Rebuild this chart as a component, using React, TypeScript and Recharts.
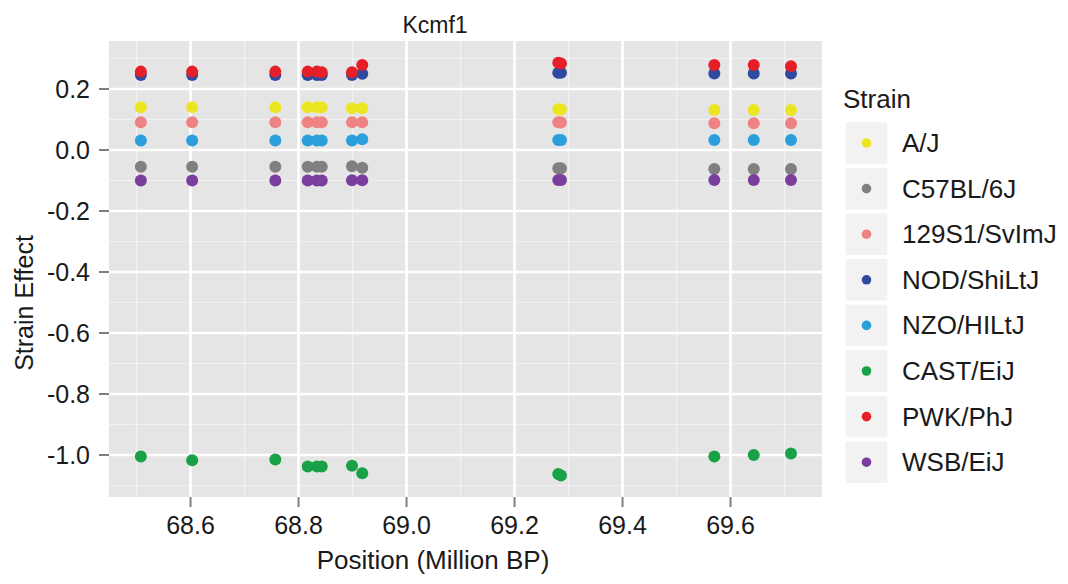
import { ScatterChart, Scatter, XAxis, YAxis, CartesianGrid } from 'recharts';

const positions = [68.508, 68.603, 68.757, 68.817, 68.834, 68.843, 68.899, 68.918, 69.281, 69.286, 69.57, 69.643, 69.712];

const strains = ['A/J', 'C57BL/6J', '129S1/SvImJ', 'NOD/ShiLtJ', 'NZO/HILtJ', 'CAST/EiJ', 'PWK/PhJ', 'WSB/EiJ'];
const strainColors = ['#ECE622', '#808080', '#EF8282', '#2F4B9F', '#2A9FDC', '#18A147', '#E41F27', '#7A3F9E'];

const ajEffect = [0.14, 0.14, 0.14, 0.14, 0.14, 0.14, 0.137, 0.137, 0.134, 0.133, 0.131, 0.131, 0.131];
const c57Effect = [-0.055, -0.055, -0.055, -0.055, -0.055, -0.055, -0.053, -0.058, -0.06, -0.06, -0.062, -0.062, -0.062];
const s129Effect = [0.091, 0.091, 0.091, 0.091, 0.091, 0.091, 0.091, 0.091, 0.091, 0.09, 0.088, 0.088, 0.088];
const nodEffect = [0.246, 0.246, 0.246, 0.246, 0.246, 0.246, 0.246, 0.25, 0.253, 0.253, 0.251, 0.251, 0.251];
const nzoEffect = [0.031, 0.031, 0.031, 0.031, 0.031, 0.031, 0.031, 0.035, 0.033, 0.033, 0.033, 0.033, 0.033];
const castEffect = [-1.005, -1.017, -1.015, -1.038, -1.038, -1.038, -1.035, -1.06, -1.062, -1.067, -1.005, -1.0, -0.995];
const pwkEffect = [0.257, 0.257, 0.257, 0.257, 0.257, 0.255, 0.255, 0.279, 0.286, 0.284, 0.279, 0.279, 0.275];
const wsbEffect = [-0.1, -0.1, -0.1, -0.1, -0.1, -0.1, -0.099, -0.099, -0.098, -0.098, -0.098, -0.098, -0.098];

const effects = [ajEffect, c57Effect, s129Effect, nodEffect, nzoEffect, castEffect, pwkEffect, wsbEffect];

const xTicks = [68.6, 68.8, 69.0, 69.2, 69.4, 69.6];
const xMinor = [68.5, 68.7, 68.9, 69.1, 69.3, 69.5, 69.7];
const yTicks = [0.2, 0.0, -0.2, -0.4, -0.6, -0.8, -1.0];
const yMinor = [0.3, 0.1, -0.1, -0.3, -0.5, -0.7, -0.9, -1.1];

const FONT = '"Liberation Sans", Arial, Helvetica, sans-serif';

const series = strains.map((name, i) => ({
  name,
  color: strainColors[i],
  data: positions.map((x, j) => ({ x, y: effects[i][j] })),
}));

const dot = (color: string) => (props: any) => <circle cx={props.cx} cy={props.cy} r={6} fill={color} />;

export default function App() {
  return (
    <div style={{ position: 'absolute', left: 0, top: 0, width: 1068, height: 584, background: '#fff', fontFamily: FONT }}>
      <ScatterChart width={1068} height={584} margin={{ top: 41, right: 246, bottom: 0, left: 0 }}>
        <CartesianGrid fill="#E5E5E5" stroke="#F2F2F2" strokeWidth={1.2} horizontalValues={yMinor} verticalValues={xMinor} />
        <CartesianGrid fill="none" stroke="#FFFFFF" strokeWidth={2.6} horizontalValues={yTicks} verticalValues={xTicks} />
        <XAxis
          type="number"
          dataKey="x"
          domain={[68.449, 69.7694]}
          ticks={xTicks}
          allowDataOverflow
          height={87}
          tickFormatter={(v: number) => v.toFixed(1)}
          axisLine={false}
          tickSize={10}
          tickMargin={9}
          tickLine={{ stroke: '#7F7F7F', strokeWidth: 2 }}
          tick={{ fill: '#1a1a1a', fontSize: 25, fontFamily: FONT }}
        />
        <YAxis
          type="number"
          dataKey="y"
          domain={[-1.1377, 0.3574]}
          ticks={yTicks}
          allowDataOverflow
          width={109}
          tickFormatter={(v: number) => v.toFixed(1)}
          axisLine={false}
          tickSize={10}
          tickMargin={9}
          tickLine={{ stroke: '#7F7F7F', strokeWidth: 2 }}
          tick={{ fill: '#1a1a1a', fontSize: 25, fontFamily: FONT }}
        />
        {series.map((s) => (
          <Scatter key={s.name} name={s.name} data={s.data} fill={s.color} shape={dot(s.color)} isAnimationActive={false} />
        ))}
      </ScatterChart>
      <svg width={1068} height={584} style={{ position: 'absolute', left: 0, top: 0, pointerEvents: 'none' }} fontFamily={FONT}>
        <text x={435} y={33} textAnchor="middle" fontSize={23} fill="#1a1a1a">Kcmf1</text>
        <text x={433} y={569} textAnchor="middle" fontSize={26} fill="#1a1a1a">Position (Million BP)</text>
        <text transform="translate(33,303) rotate(-90)" textAnchor="middle" fontSize={25} fill="#1a1a1a">Strain Effect</text>
        <text x={843} y={108} fontSize={26} fill="#1a1a1a">Strain</text>
        {series.map((s, i) => {
          const top = 121.5 + i * 45.6;
          return (
            <g key={s.name}>
              <rect x={845} y={top} width={43} height={43} fill="#F2F2F2" stroke="#FFFFFF" strokeWidth={1.5} />
              <circle cx={866.5} cy={top + 21.5} r={4.8} fill={s.color} />
              <text x={902} y={top + 21.5 + 9} fontSize={26} fill="#1a1a1a">{s.name}</text>
            </g>
          );
        })}
      </svg>
    </div>
  );
}
